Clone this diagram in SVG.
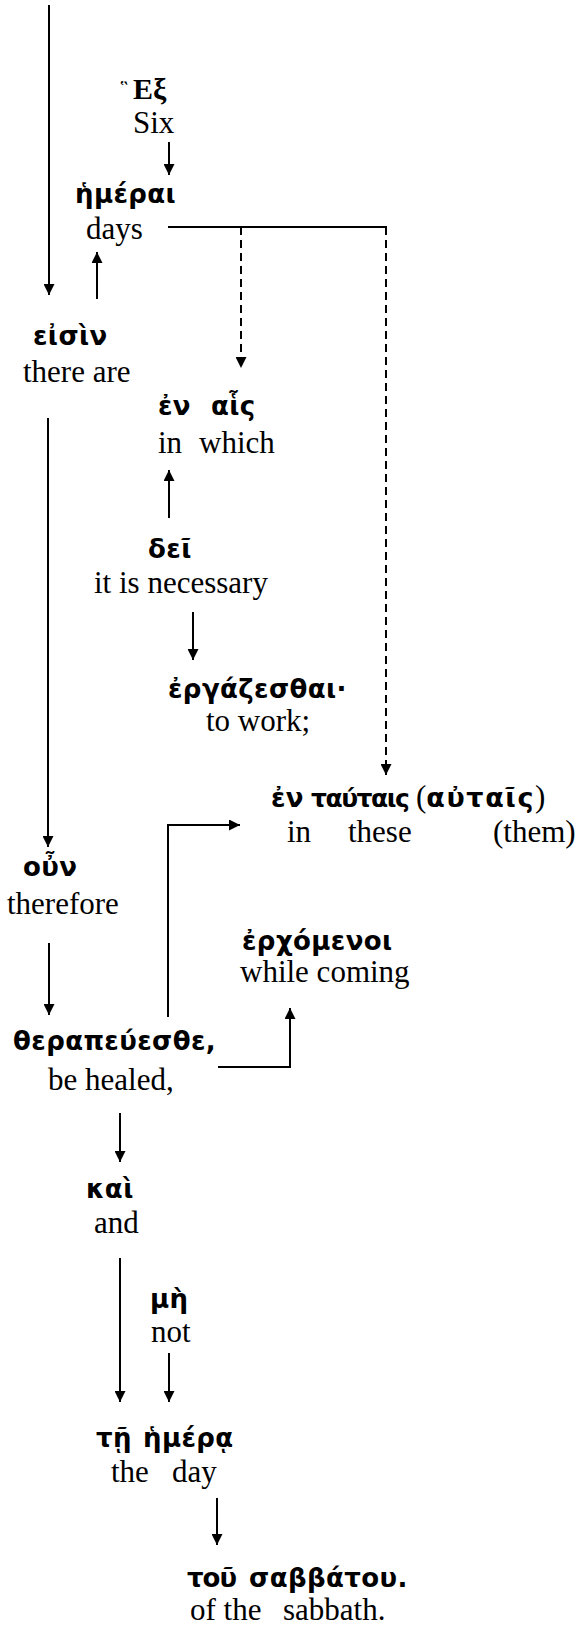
<svg xmlns="http://www.w3.org/2000/svg" width="581" height="1627" viewBox="0 0 581 1627">
  <style>
    .gk { font-family: "DejaVu Sans", "Noto Sans", sans-serif; font-weight: bold; font-size: 26px; letter-spacing: 0.4px; fill: #000; }
    .gs { font-family: "Liberation Serif", "DejaVu Serif", serif; font-weight: bold; font-size: 30px; fill: #000; }
    .en { font-family: "Liberation Serif", "Times New Roman", serif; font-size: 31px; fill: #000; }
    .pr { font-family: "Liberation Serif", "Times New Roman", serif; font-weight: normal; font-size: 31px; letter-spacing: 0; }
    .ln { fill: none; stroke: #000; stroke-width: 2; }
    .dash { stroke-dasharray: 8 5; }
  </style>
  <defs>
    <marker id="arrow" markerUnits="userSpaceOnUse" markerWidth="11" markerHeight="11" refX="11" refY="5.5" orient="auto">
      <path d="M0,0 L11,5.5 L0,11 Z" fill="#000"/>
    </marker>
  </defs>

  <!-- connectors -->
  <g id="connectors">
    <line class="ln" x1="49" y1="5" x2="49" y2="295" marker-end="url(#arrow)"/>
    <line class="ln" x1="169" y1="142" x2="169" y2="175" marker-end="url(#arrow)"/>
    <line class="ln" x1="97" y1="299" x2="97" y2="252" marker-end="url(#arrow)"/>
    <line class="ln" x1="168" y1="227" x2="387" y2="227"/>
    <line class="ln dash" x1="241" y1="227" x2="241" y2="368" marker-end="url(#arrow)"/>
    <line class="ln dash" x1="386" y1="227" x2="386" y2="775" marker-end="url(#arrow)"/>
    <line class="ln" x1="48" y1="418" x2="48" y2="847" marker-end="url(#arrow)"/>
    <line class="ln" x1="169" y1="518" x2="169" y2="470" marker-end="url(#arrow)"/>
    <line class="ln" x1="193" y1="612" x2="193" y2="660" marker-end="url(#arrow)"/>
    <line class="ln" x1="49" y1="943" x2="49" y2="1015" marker-end="url(#arrow)"/>
    <path class="ln" d="M168,1017 V825 H240" marker-end="url(#arrow)"/>
    <path class="ln" d="M218,1067 H290 V1008" marker-end="url(#arrow)"/>
    <line class="ln" x1="120" y1="1113" x2="120" y2="1162" marker-end="url(#arrow)"/>
    <line class="ln" x1="120" y1="1258" x2="120" y2="1402" marker-end="url(#arrow)"/>
    <line class="ln" x1="169" y1="1353" x2="169" y2="1402" marker-end="url(#arrow)"/>
    <line class="ln" x1="217" y1="1498" x2="217" y2="1545" marker-end="url(#arrow)"/>
  </g>

  <!-- word nodes: Greek above, English gloss below -->
  <g id="n-hex">
    <text class="gs"><tspan x="120" y="97" font-size="24" font-weight="normal">῝</tspan><tspan x="133" y="99">Εξ</tspan></text>
    <text class="en" x="133" y="133">Six</text>
  </g>
  <g id="n-hemerai">
    <text class="gk" x="75" y="203">ἡμέραι</text>
    <text class="en" x="86" y="239">days</text>
  </g>
  <g id="n-eisin">
    <text class="gk" x="33" y="345">εἰσὶν</text>
    <text class="en" x="23" y="382">there are</text>
  </g>
  <g id="n-en-hais">
    <text class="gk" y="415"><tspan x="158">ἐν</tspan><tspan x="211">αἷς</tspan></text>
    <text class="en" y="453"><tspan x="158">in</tspan><tspan x="199">which</tspan></text>
  </g>
  <g id="n-dei">
    <text class="gk" x="148" y="558">δεῖ</text>
    <text class="en" x="94" y="593">it is necessary</text>
  </g>
  <g id="n-ergazesthai">
    <text class="gk" x="168" y="698">ἐργάζεσθαι·</text>
    <text class="en" x="206" y="731">to work;</text>
  </g>
  <g id="n-en-tautais">
    <text class="gk" y="807"><tspan x="271">ἐν</tspan><tspan x="311" font-size="25" letter-spacing="-1.5">ταύταις</tspan><tspan x="416" class="pr">(</tspan><tspan font-size="27" letter-spacing="1.6">αὐταῖς</tspan><tspan class="pr">)</tspan></text>
    <text class="en" y="842"><tspan x="287">in</tspan><tspan x="348">these</tspan><tspan x="493">(them)</tspan></text>
  </g>
  <g id="n-oun">
    <text class="gk" x="23" y="876">οὖν</text>
    <text class="en" x="7" y="914">therefore</text>
  </g>
  <g id="n-erchomenoi">
    <text class="gk" x="242" y="950">ἐρχόμενοι</text>
    <text class="en" x="240" y="982">while coming</text>
  </g>
  <g id="n-therapeuesthe">
    <text class="gk" x="13" y="1050">θεραπεύεσθε,</text>
    <text class="en" x="48" y="1090">be healed,</text>
  </g>
  <g id="n-kai">
    <text class="gk" x="86" y="1198">καὶ</text>
    <text class="en" x="94" y="1233">and</text>
  </g>
  <g id="n-me">
    <text class="gk" x="150" y="1308">μὴ</text>
    <text class="en" x="151" y="1342">not</text>
  </g>
  <g id="n-te-hemera">
    <text class="gk" y="1447"><tspan x="96">τῇ</tspan><tspan x="143">ἡμέρᾳ</tspan></text>
    <text class="en" y="1482"><tspan x="111">the</tspan><tspan x="172">day</tspan></text>
  </g>
  <g id="n-sabbatou">
    <text class="gk" y="1587"><tspan x="187" letter-spacing="-1">τοῦ</tspan><tspan x="249">σαββάτου.</tspan></text>
    <text class="en" y="1620"><tspan x="190">of the</tspan><tspan x="283">sabbath.</tspan></text>
  </g>
</svg>
